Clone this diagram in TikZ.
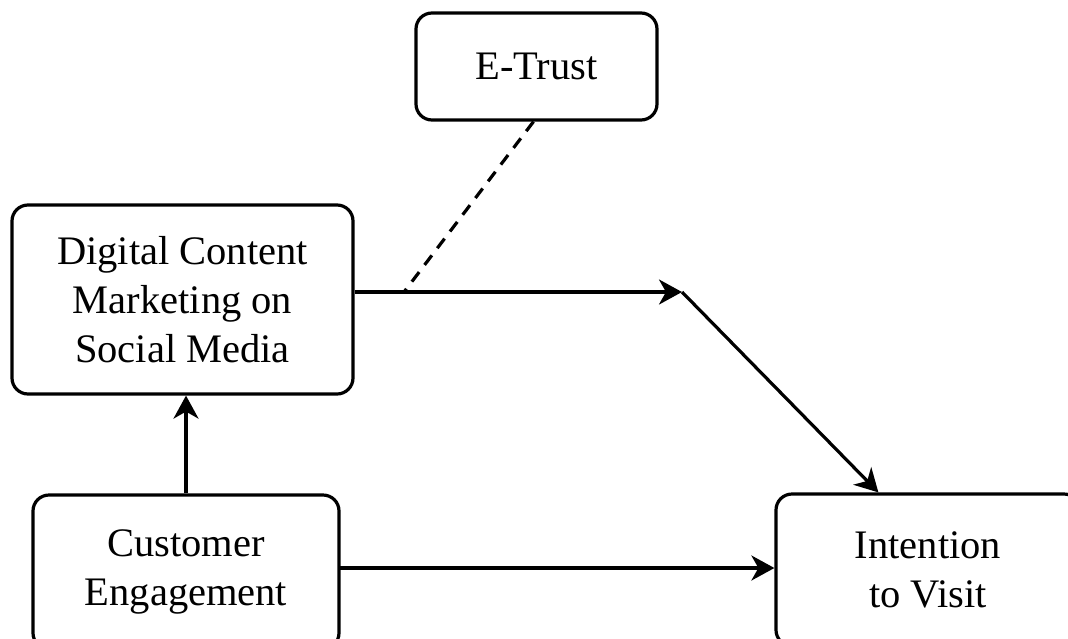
\documentclass[tikz,border=0pt]{standalone}
\usepackage{fontspec}
\setmainfont{Liberation Serif}
\usetikzlibrary{arrows.meta}
\begin{document}
\begin{tikzpicture}[x=1pt,y=-1pt,
  box/.style={draw=black, line width=3.2pt, rounded corners=16pt, fill=white,
    align=center, inner sep=0pt, font=\fontsize{40.5}{49}\selectfont},
  arr/.style={line width=3.2pt, -{Stealth[length=23pt,width=25pt,inset=7pt]}},
  link/.style={line width=3.2pt},
  dashlink/.style={line width=3.2pt, dash pattern=on 12pt off 9pt}]
\useasboundingbox (0,0) rectangle (1068,638);
\clip (0,0) rectangle (1068,638);
\fill[white] (0,0) rectangle (1068,638);
\node[box, minimum width=241pt, minimum height=107pt] (et) at (536.5,66.5) {E-Trust};
\node[box, minimum width=341pt, minimum height=189pt] (dcm) at (182.5,299.5) {Digital Content\\Marketing on\\Social Media};
\node[box, minimum width=306pt, minimum height=154pt] (ce) at (186,572) {Customer\\Engagement};
\node[box, minimum width=304pt, minimum height=152pt] (itv) at (928,570) {Intention\\to Visit};
\coordinate (m) at (682,292);
\coordinate (d) at (404,292);
\coordinate (c) at (339,568);
\draw[arr] (ce.north) -- (ce.north |- dcm.south);
\draw[arr] (c) -- (c -| itv.west);
\draw[arr] (dcm.east |- m) -- (m);
\draw[arr] (m) -- ([xshift=104pt]itv.north west);
\draw[dashlink] ([xshift=-3pt]et.south) -- (d);
\end{tikzpicture}
\end{document}
